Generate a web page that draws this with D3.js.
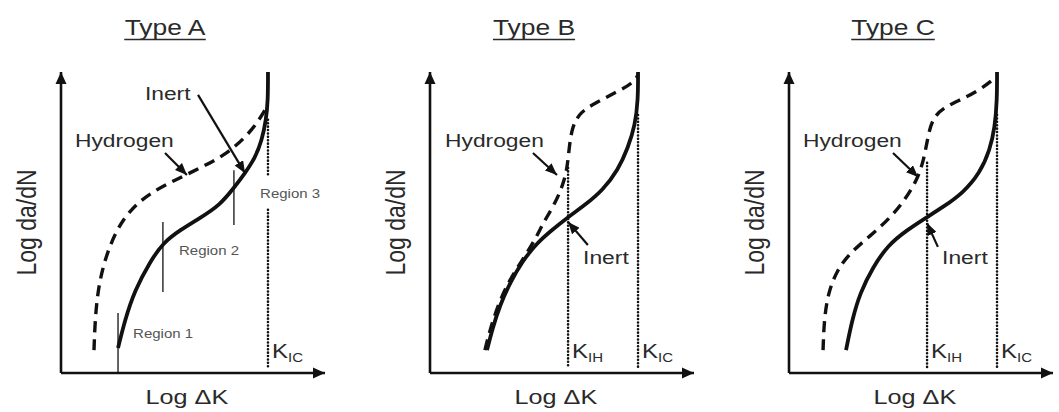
<!DOCTYPE html>
<html>
<head>
<meta charset="utf-8">
<script src="https://cdn.jsdelivr.net/npm/d3@7"></script>
<style>
  body { margin: 0; background: #fff; }
  svg { display: block; }
  text { font-family: "Liberation Sans", Arial, Helvetica, sans-serif; fill: #2a2a2a; }
</style>
</head>
<body>
<svg id="chart" width="1059" height="412"></svg>
<script>
// Schematic fatigue crack growth curves, [log ΔK, log da/dN] on a 0–100 scale
const panelTitles = ["Type A", "Type B", "Type C"];
const xAxisLabel = "Log ΔK";
const yAxisLabel = "Log da/dN";
const seriesNames = ["Inert", "Hydrogen"];

const inertA = [[21.6, 8.3], [24.2, 17.6], [28.0, 27.6], [33.7, 36.9], [38.6, 43.2], [45.1, 47.5],
  [52.7, 51.5], [60.2, 55.8], [65.5, 61.5], [69.7, 66.4], [73.5, 71.4], [76.1, 77.4],
  [77.7, 84.1], [78.4, 90.7], [78.4, 100]];
const hydrogenA = [[12.5, 7.6], [12.9, 17.6], [14.0, 27.6], [16.3, 36.9], [20.5, 46.8], [26.1, 54.2],
  [33.7, 59.8], [43.2, 64.1], [52.7, 68.1], [62.1, 72.4], [69.7, 78.1], [74.6, 83.4], [77.7, 88.0]];

const inertB = [[21.6, 7.6], [23.5, 14.3], [26.5, 22.6], [30.3, 29.9], [34.8, 36.9], [40.5, 43.2],
  [46.2, 47.5], [52.3, 51.8], [58.7, 55.8], [65.5, 60.8], [71.2, 67.4], [75.0, 74.8],
  [77.7, 82.4], [78.8, 90.7], [78.8, 100]];
const hydrogenB = [[20.8, 7.6], [22.7, 14.3], [25.8, 22.6], [29.5, 29.9], [34.5, 36.9], [39.8, 44.2],
  [42.8, 49.8], [46.6, 55.1], [50.0, 61.5], [51.9, 67.4], [52.7, 74.8], [53.8, 81.7],
  [56.8, 86.7], [63.3, 90.0], [70.8, 93.4], [76.9, 96.3], [78.8, 99.0]];

const inertC = [[21.6, 7.6], [23.9, 17.6], [26.9, 26.6], [31.8, 35.2], [37.5, 42.5], [44.7, 47.5],
  [52.3, 51.8], [58.3, 55.1], [65.9, 59.8], [72.3, 66.4], [76.1, 74.1], [78.0, 81.7],
  [78.8, 90.7], [78.8, 100]];
const hydrogenC = [[12.9, 7.6], [13.3, 17.6], [14.8, 26.6], [18.2, 34.2], [23.1, 39.9], [30.7, 45.5],
  [38.3, 51.5], [43.9, 57.5], [48.5, 64.1], [51.1, 70.8], [52.7, 79.1], [54.5, 84.7],
  [58.3, 88.0], [64.8, 90.7], [72.3, 94.0], [78.0, 98.0]];

// Threshold values of ΔK (critical and hydrogen-assisted)
const kIC = [78.4, 78.8, 78.8];
const kIH = [null, 52.3, 52.3];

// Growth regions marked on the inert curve of Type A: [ΔK, from, to]
const regionNames = ["Region 1", "Region 2", "Region 3"];
const regionBounds = [[21.6, 0, 19.9], [38.6, 26.9, 50.2], [65.5, 49.2, 67.4]];

// ---- layout ----
const W = 264, H = 301, baseY = 373;
const originX = [61, 430, 789];
const textStretch = 1.2;

const inertSets = [inertA, inertB, inertC];
const hydrogenSets = [hydrogenA, hydrogenB, hydrogenC];

// label anchors (in the panel's 0–100 units)
const labelLayout = [
  { hydrogen: [5.3, 75.1], hArrow: [[39.4, 73.1], [47.7, 65.8]],
    inert: [31.8, 90.7], iArrow: [[51.9, 92.4], [69.7, 66.4]] },
  { hydrogen: [5.7, 75.1], hArrow: [[39.0, 73.1], [48.1, 65.8]],
    inert: [58.0, 36.2], iArrow: [[59.8, 42.5], [52.3, 50.2]] },
  { hydrogen: [5.3, 75.1], hArrow: [[39.4, 73.1], [48.9, 65.1]],
    inert: [58.0, 36.2], iArrow: [[56.4, 41.9], [52.3, 49.8]] }
];
const regionLabelPos = [[27.3, 11.6], [44.7, 39.2], [75.4, 58.1]];

const svg = d3.select("#chart");
const defs = svg.append("defs");
defs.append("marker")
  .attr("id", "axisHead").attr("markerUnits", "userSpaceOnUse")
  .attr("viewBox", "0 0 12 12").attr("refX", 12).attr("refY", 6)
  .attr("markerWidth", 12).attr("markerHeight", 12).attr("orient", "auto")
  .append("path").attr("d", "M0,0.5 L12,6 L0,11.5 Z").attr("fill", "#111");
defs.append("marker")
  .attr("id", "noteHead").attr("markerUnits", "userSpaceOnUse")
  .attr("viewBox", "0 0 12 10").attr("refX", 12).attr("refY", 5)
  .attr("markerWidth", 12).attr("markerHeight", 10).attr("orient", "auto")
  .append("path").attr("d", "M0,0 L12,5 L0,10 Z").attr("fill", "#111");

function stretchedText(g, x, y, str, size, anchor, rotate) {
  return g.append("text")
    .attr("transform", `translate(${x},${y}) scale(${textStretch},1)` + (rotate ? ` rotate(${rotate})` : ""))
    .attr("text-anchor", anchor || "start")
    .style("font-size", size + "px")
    .text(str);
}

panelTitles.forEach((title, i) => {
  const x = d3.scaleLinear().domain([0, 100]).range([originX[i], originX[i] + W]);
  const y = d3.scaleLinear().domain([0, 100]).range([baseY, baseY - H]);
  const g = svg.append("g");
  const line = d3.line().x(d => x(d[0])).y(d => y(d[1])).curve(d3.curveBasis);

  // title with underline
  const cx = x(39.4);
  const t = stretchedText(g, cx, 35, title, 22, "middle");
  const tw = t.node().getBBox().width * textStretch;
  g.append("line").attr("x1", cx - tw / 2).attr("x2", cx + tw / 2)
    .attr("y1", 39.5).attr("y2", 39.5).attr("stroke", "#2a2a2a").attr("stroke-width", 1.5);

  // threshold lines
  const dotted = (k, top) => g.append("line")
    .attr("x1", x(k)).attr("x2", x(k)).attr("y1", y(top)).attr("y2", y(1.7))
    .attr("stroke", "#111").attr("stroke-width", 2.6)
    .attr("stroke-linecap", "round").attr("stroke-dasharray", "0 3.4");
  const kLabel = (k, sub) => {
    const tx = g.append("text").attr("x", x(k) + 4).attr("y", 358).style("font-size", "20px")
      .attr("transform", `translate(${(x(k) + 4) * (1 - textStretch)},0) scale(${textStretch},1)`);
    tx.append("tspan").text("K");
    tx.append("tspan").attr("dy", 4).style("font-size", "12.5px").text(sub);
  };
  if (i === 0) {
    dotted(kIC[i], 84.1).attr("y2", y(65.8));
    dotted(kIC[i], 54.2);
  } else {
    dotted(kIC[i], 85.7);
    dotted(kIH[i], i === 1 ? 68.1 : 69.8);
    kLabel(kIH[i], "IH");
  }
  kLabel(kIC[i], "IC");

  // region markers (Type A)
  if (i === 0) {
    regionBounds.forEach((r, j) => {
      g.append("line").attr("x1", x(r[0])).attr("x2", x(r[0]))
        .attr("y1", y(r[2])).attr("y2", y(r[1]))
        .attr("stroke", "#222").attr("stroke-width", 1.4);
      stretchedText(g, x(regionLabelPos[j][0]), y(regionLabelPos[j][1]), regionNames[j], 12.5)
        .style("fill", "#555");
    });
  }

  // curves
  g.append("path").datum(hydrogenSets[i]).attr("d", line)
    .attr("fill", "none").attr("stroke", "#111").attr("stroke-width", 3.4)
    .attr("stroke-dasharray", "11 7");
  g.append("path").datum(inertSets[i]).attr("d", line)
    .attr("fill", "none").attr("stroke", "#111").attr("stroke-width", 3.8);

  // axes
  g.append("line").attr("x1", x(0)).attr("x2", x(0)).attr("y1", y(0)).attr("y2", y(100))
    .attr("stroke", "#111").attr("stroke-width", 2.6).attr("marker-end", "url(#axisHead)");
  g.append("line").attr("x1", x(0)).attr("x2", x(100)).attr("y1", y(0)).attr("y2", y(0))
    .attr("stroke", "#111").attr("stroke-width", 2.6).attr("marker-end", "url(#axisHead)");

  stretchedText(g, x(47.7), 404, xAxisLabel, 21, "middle");
  stretchedText(g, originX[i] - 25, y(50), yAxisLabel, 23, "middle", -90);

  // annotations
  const L = labelLayout[i];
  stretchedText(g, x(L.hydrogen[0]), y(L.hydrogen[1]), seriesNames[1], 19);
  stretchedText(g, x(L.inert[0]), y(L.inert[1]), seriesNames[0], 19);
  [L.hArrow, L.iArrow].forEach(a => {
    g.append("line").attr("x1", x(a[0][0])).attr("y1", y(a[0][1]))
      .attr("x2", x(a[1][0])).attr("y2", y(a[1][1]))
      .attr("stroke", "#111").attr("stroke-width", 2.2).attr("marker-end", "url(#noteHead)");
  });
});
</script>
</body>
</html>
